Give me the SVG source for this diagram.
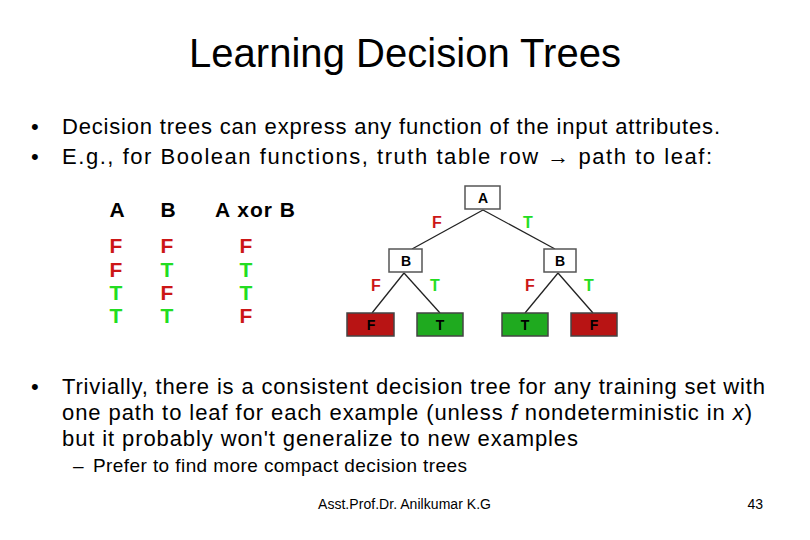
<svg xmlns="http://www.w3.org/2000/svg" width="810" height="540" viewBox="0 0 810 540">
<style>
text{font-family:"Liberation Sans",Arial,sans-serif;fill:#000}
.title{font-size:40px}
.body{font-size:22px}
.sub{font-size:19px}
.foot{font-size:14px}
.hd{font-size:21px;font-weight:bold}
.tv{font-size:21px;font-weight:bold}
.r{fill:#cc1616}
.g{fill:#22dd22}
.node rect{fill:#fff;stroke:#555;stroke-width:1.5}
.node text,.leaf text{font-size:14px;font-weight:bold;text-anchor:middle}
.leaf.red rect{fill:#b81414;stroke:#444;stroke-width:1.5}
.leaf.grn rect{fill:#1faa1f;stroke:#444;stroke-width:1.5}
.el{font-size:16px;font-weight:bold;text-anchor:middle}
#connectors line{stroke:#222;stroke-width:1.3}
</style>
<rect width="810" height="540" fill="#fff"/>
<text class="title" x="405" y="67" text-anchor="middle" textLength="432" lengthAdjust="spacing">Learning Decision Trees</text>
<text class="body" x="31" y="134">•</text>
<text class="body" x="62" y="134" textLength="658" lengthAdjust="spacing">Decision trees can express any function of the input attributes.</text>
<text class="body" x="31" y="164">•</text>
<text class="body" x="62" y="164" textLength="650" lengthAdjust="spacing">E.g., for Boolean functions, truth table row → path to leaf:</text>
<g id="table">
<text class="hd" x="117" y="217" text-anchor="middle">A</text>
<text class="hd" x="168" y="217" text-anchor="middle">B</text>
<text class="hd" x="255" y="217" text-anchor="middle" textLength="80" lengthAdjust="spacing">A xor B</text>
<text class="tv r" x="116" y="253" text-anchor="middle">F</text>
<text class="tv r" x="116" y="277" text-anchor="middle">F</text>
<text class="tv g" x="116" y="300" text-anchor="middle">T</text>
<text class="tv g" x="116" y="323" text-anchor="middle">T</text>
<text class="tv r" x="167" y="253" text-anchor="middle">F</text>
<text class="tv g" x="167" y="277" text-anchor="middle" font-weight="normal">T</text>
<text class="tv r" x="167" y="300" text-anchor="middle">F</text>
<text class="tv g" x="167" y="323" text-anchor="middle" font-weight="normal">T</text>
<text class="tv r" x="246" y="253" text-anchor="middle">F</text>
<text class="tv g" x="246" y="277" text-anchor="middle">T</text>
<text class="tv g" x="246" y="300" text-anchor="middle">T</text>
<text class="tv r" x="246" y="323" text-anchor="middle">F</text>
</g>
<g id="connectors">
<line x1="483" y1="210" x2="412" y2="249"/>
<line x1="483" y1="210" x2="555" y2="249"/>
<line x1="404" y1="273" x2="372" y2="313"/>
<line x1="404" y1="273" x2="440" y2="313"/>
<line x1="558" y1="273" x2="525" y2="313"/>
<line x1="558" y1="273" x2="593" y2="313"/>
</g>
<g id="edge-labels">
<text class="el r" x="437" y="228">F</text>
<text class="el g" x="528" y="228">T</text>
<text class="el r" x="376" y="291">F</text>
<text class="el g" x="435" y="291">T</text>
<text class="el r" x="530" y="291">F</text>
<text class="el g" x="589" y="291">T</text>
</g>
<g id="node-A" class="node"><rect x="465" y="186" width="35" height="23"/><text x="483" y="203">A</text></g>
<g id="node-B1" class="node"><rect x="389" y="249" width="33" height="23"/><text x="406" y="266">B</text></g>
<g id="node-B2" class="node"><rect x="544" y="249" width="32" height="23"/><text x="560" y="266">B</text></g>
<g id="leaf-1" class="leaf red"><rect x="347" y="313" width="47" height="23"/><text x="371" y="330">F</text></g>
<g id="leaf-2" class="leaf grn"><rect x="417" y="313" width="46" height="23"/><text x="440" y="330">T</text></g>
<g id="leaf-3" class="leaf grn"><rect x="502" y="313" width="46" height="23"/><text x="525" y="330">T</text></g>
<g id="leaf-4" class="leaf red"><rect x="571" y="313" width="46" height="23"/><text x="594" y="330">F</text></g>
<text class="body" x="31" y="394">•</text>
<text class="body" x="62" y="394" textLength="703" lengthAdjust="spacing">Trivially, there is a consistent decision tree for any training set with</text>
<text class="body" x="62" y="420" textLength="690" lengthAdjust="spacing">one path to leaf for each example (unless <tspan font-style="italic">f</tspan> nondeterministic in <tspan font-style="italic">x</tspan>)</text>
<text class="body" x="62" y="446" textLength="516" lengthAdjust="spacing">but it probably won't generalize to new examples</text>
<text class="sub" x="73" y="472">–</text>
<text class="sub" x="93" y="472" textLength="374" lengthAdjust="spacing">Prefer to find more compact decision trees</text>
<text class="foot" x="318" y="509" textLength="173" lengthAdjust="spacing">Asst.Prof.Dr. Anilkumar K.G</text>
<text class="foot" x="763" y="509" text-anchor="end">43</text>
</svg>
